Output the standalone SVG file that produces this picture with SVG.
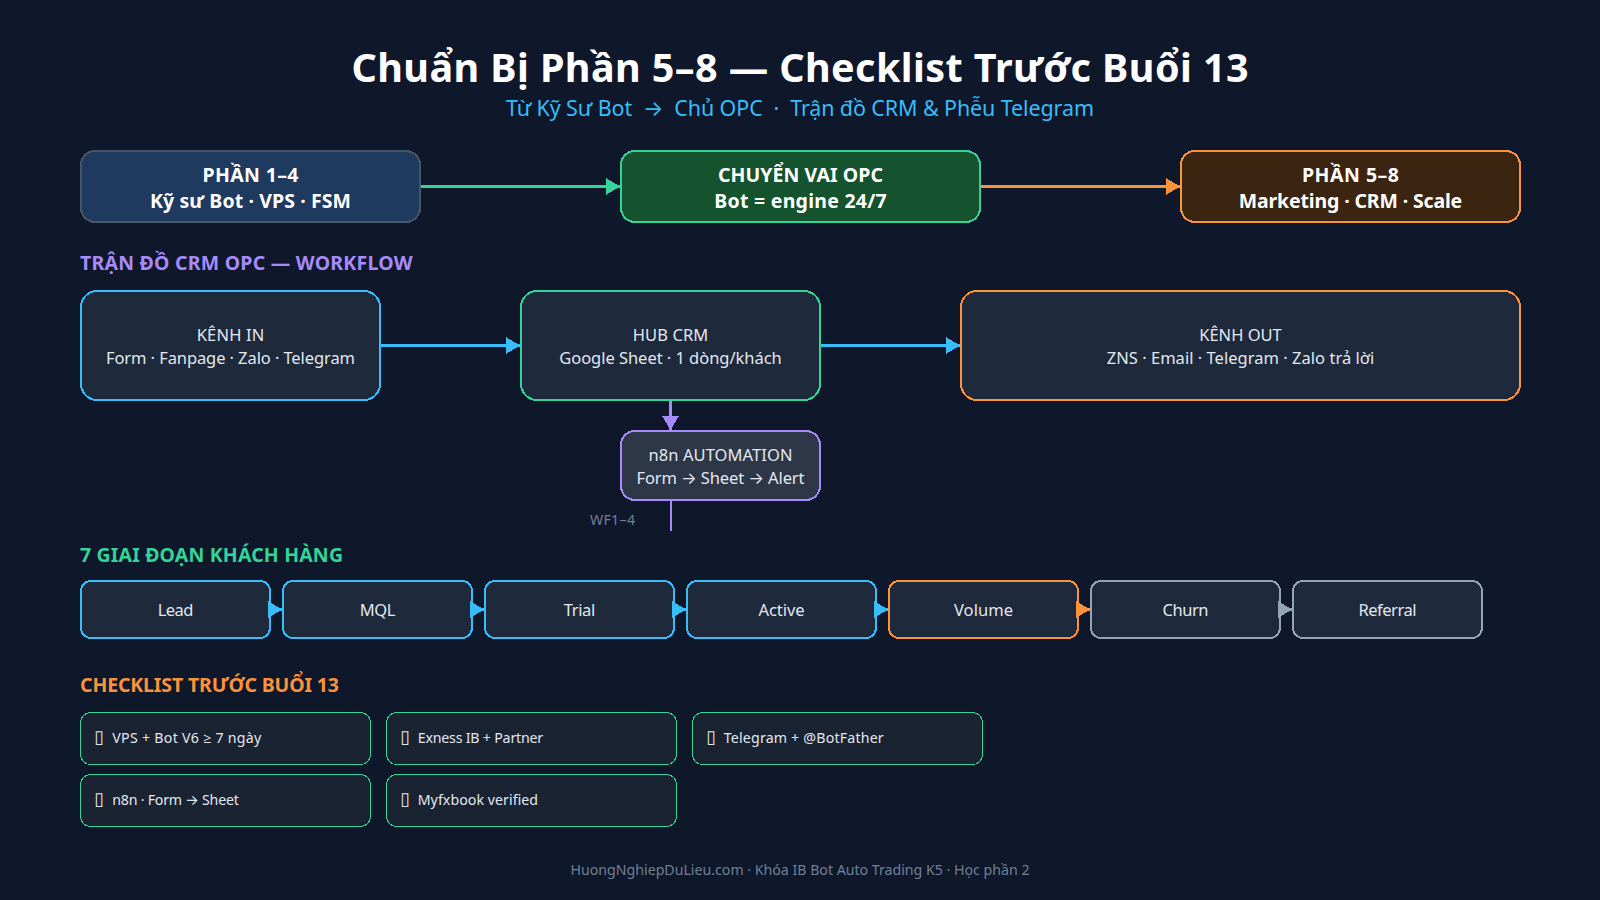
<svg xmlns="http://www.w3.org/2000/svg" width="1600" height="900" viewBox="0 0 1600 900">
<style>
text{font-family:"Noto Sans","Open Sans",sans-serif;text-anchor:middle}
rect,path{shape-rendering:crispEdges}
.t{font-size:39.5px;font-weight:700;fill:#fff}
.sub{font-size:21.5px;fill:#38bdf8}
.b{font-size:19.5px;font-weight:700;fill:#fff}
.n{font-size:16.5px;fill:#e2e8f0}
.h{font-size:19.5px;font-weight:700;text-anchor:start}
.c{font-size:14.2px;fill:#e2e8f0;text-anchor:start}
.tf{font-size:18px;font-family:"DejaVu Sans",sans-serif}
.ar{font-family:"Inter",sans-serif}
.f{font-size:14.2px;fill:#718096}
.l{stroke-width:3;fill:none}
.s{fill:#1e293b;stroke-width:2}
.k{fill:#1a2332;stroke:#34d399;stroke-width:1}
</style>
<defs>
<marker id="ag" markerWidth="14" markerHeight="17" refX="14" refY="8.5" orient="auto" markerUnits="userSpaceOnUse"><path d="M0 0L14 8.5L0 17Z" fill="#34d399"/></marker>
<marker id="ao" markerWidth="14" markerHeight="17" refX="14" refY="8.5" orient="auto" markerUnits="userSpaceOnUse"><path d="M0 0L14 8.5L0 17Z" fill="#fb923c"/></marker>
<marker id="ab" markerWidth="14" markerHeight="17" refX="14" refY="8.5" orient="auto" markerUnits="userSpaceOnUse"><path d="M0 0L14 8.5L0 17Z" fill="#38bdf8"/></marker>
<marker id="ap" markerWidth="14" markerHeight="17" refX="14" refY="8.5" orient="auto" markerUnits="userSpaceOnUse"><path d="M0 0L14 8.5L0 17Z" fill="#a78bfa"/></marker>
<marker id="as" markerWidth="14" markerHeight="17" refX="14" refY="8.5" orient="auto" markerUnits="userSpaceOnUse"><path d="M0 0L14 8.5L0 17Z" fill="#94a3b8"/></marker>
</defs>
<rect width="1600" height="900" fill="#0f172a"/>
<text class="t" x="800" y="82" textLength="897">Chuẩn Bị Phần 5–8 — Checklist Trước Buổi 13</text>
<text class="sub" x="800" y="116" xml:space="preserve" textLength="588">Từ Kỹ Sư Bot  <tspan class="ar">→</tspan>  Chủ OPC  ·  Trận đồ CRM &amp; Phễu Telegram</text>
<text class="h" x="80" y="270" fill="#a78bfa" textLength="332.5">TRẬN ĐỒ CRM OPC — WORKFLOW</text>
<text class="h" x="80" y="562" fill="#34d399" textLength="263">7 GIAI ĐOẠN KHÁCH HÀNG</text>
<text class="h" x="80" y="692" fill="#fb923c" textLength="259">CHECKLIST TRƯỚC BUỔI 13</text>
<text class="f" x="635" y="525" style="text-anchor:end" textLength="45">WF1–4</text>
<g id="connectors">
<path class="l" stroke="#34d399" d="M421 186.5H620" marker-end="url(#ag)"/>
<path class="l" stroke="#fb923c" d="M981 186.5H1180" marker-end="url(#ao)"/>
<path class="l" stroke="#38bdf8" d="M381 345.5H520" marker-end="url(#ab)"/>
<path class="l" stroke="#38bdf8" d="M821 345.5H960" marker-end="url(#ab)"/>
<path class="l" stroke="#a78bfa" d="M670.5 401V430" marker-end="url(#ap)"/>
<path stroke="#a78bfa" stroke-width="2" fill="none" d="M671 501V531"/>
</g>
<g id="n-p14"><rect x="81" y="151" width="339" height="71" rx="14" fill="#1e3a5f" stroke="#475569" stroke-width="2"/><text class="b" x="250.5" y="182" textLength="96">PHẦN 1–4</text><text class="b" x="250.5" y="208" textLength="201">Kỹ sư Bot · VPS · FSM</text></g>
<g id="n-opc"><rect x="621" y="151" width="359" height="71" rx="14" fill="#14532d" stroke="#34d399" stroke-width="2"/><text class="b" x="800.5" y="182" textLength="165">CHUYỂN VAI OPC</text><text class="b" x="800.5" y="208" textLength="172.5">Bot = engine 24/7</text></g>
<g id="n-p58"><rect x="1181" y="151" width="339" height="71" rx="14" fill="#3b2410" stroke="#fb923c" stroke-width="2"/><text class="b" x="1350.5" y="182" textLength="97">PHẦN 5–8</text><text class="b" x="1350.5" y="208" textLength="223.5">Marketing · CRM · Scale</text></g>
<g id="n-in"><rect class="s" x="81" y="291" width="299" height="109" rx="16" stroke="#38bdf8"/><text class="n" x="230.5" y="341" textLength="67.5">KÊNH IN</text><text class="n" x="230.5" y="364" textLength="249">Form · Fanpage · Zalo · Telegram</text></g>
<g id="n-hub"><rect class="s" x="521" y="291" width="299" height="109" rx="16" stroke="#34d399"/><text class="n" x="670.5" y="341" textLength="75.5">HUB CRM</text><text class="n" x="670.5" y="364" textLength="222.5">Google Sheet · 1 dòng/khách</text></g>
<g id="n-out"><rect class="s" x="961" y="291" width="559" height="109" rx="16" stroke="#fb923c"/><text class="n" x="1240.5" y="341" textLength="82.5">KÊNH OUT</text><text class="n" x="1240.5" y="364" textLength="267.5">ZNS · Email · Telegram · Zalo trả lời</text></g>
<g id="n-n8n"><rect x="621" y="431" width="199" height="69" rx="14" fill="#2d3748" stroke="#a78bfa" stroke-width="2"/><text class="n" x="720.5" y="461" textLength="144">n8n AUTOMATION</text><text class="n" x="720.5" y="484" textLength="168">Form <tspan class="ar">→</tspan> Sheet <tspan class="ar">→</tspan> Alert</text></g>
<g id="s1"><rect class="s" x="81" y="581" width="189" height="57" rx="10" stroke="#38bdf8"/><text class="n" x="175.5" y="616" textLength="35.7">Lead</text></g>
<g id="s2"><rect class="s" x="283" y="581" width="189" height="57" rx="10" stroke="#38bdf8"/><text class="n" x="377.5" y="616" textLength="35.7">MQL</text></g>
<g id="s3"><rect class="s" x="485" y="581" width="189" height="57" rx="10" stroke="#38bdf8"/><text class="n" x="579.5" y="616" textLength="31.6">Trial</text></g>
<g id="s4"><rect class="s" x="687" y="581" width="189" height="57" rx="10" stroke="#38bdf8"/><text class="n" x="781.5" y="616" textLength="46">Active</text></g>
<g id="s5"><rect class="s" x="889" y="581" width="189" height="57" rx="10" stroke="#fb923c"/><text class="n" x="983.5" y="616" textLength="59">Volume</text></g>
<g id="s6"><rect class="s" x="1091" y="581" width="189" height="57" rx="10" stroke="#94a3b8"/><text class="n" x="1185.5" y="616" textLength="46">Churn</text></g>
<g id="s7"><rect class="s" x="1293" y="581" width="189" height="57" rx="10" stroke="#94a3b8"/><text class="n" x="1387.5" y="616" textLength="58">Referral</text></g>
<g id="connectors-stages">
<path class="l" stroke="#38bdf8" d="M270 609.5H282" marker-end="url(#ab)"/>
<path class="l" stroke="#38bdf8" d="M472 609.5H484" marker-end="url(#ab)"/>
<path class="l" stroke="#38bdf8" d="M674 609.5H686" marker-end="url(#ab)"/>
<path class="l" stroke="#38bdf8" d="M876 609.5H888" marker-end="url(#ab)"/>
<path class="l" stroke="#fb923c" d="M1078 609.5H1090" marker-end="url(#ao)"/>
<path class="l" stroke="#94a3b8" d="M1280 609.5H1292" marker-end="url(#as)"/>
</g>
<g id="c1"><rect class="k" x="80.5" y="712.5" width="290" height="52" rx="10"/><text class="c" x="94" y="743"><tspan class="tf">▯</tspan><tspan x="112.3" textLength="149">VPS + Bot V6 ≥ 7 ngày</tspan></text></g>
<g id="c2"><rect class="k" x="386.5" y="712.5" width="290" height="52" rx="10"/><text class="c" x="400" y="743"><tspan class="tf">▯</tspan><tspan x="417.7" textLength="125.5">Exness IB + Partner</tspan></text></g>
<g id="c3"><rect class="k" x="692.5" y="712.5" width="290" height="52" rx="10"/><text class="c" x="706" y="743"><tspan class="tf">▯</tspan><tspan x="723.7" textLength="160">Telegram + @BotFather</tspan></text></g>
<g id="c4"><rect class="k" x="80.5" y="774.5" width="290" height="52" rx="10"/><text class="c" x="94" y="805"><tspan class="tf">▯</tspan><tspan x="112.3" textLength="126.5">n8n · Form <tspan class="ar">→</tspan> Sheet</tspan></text></g>
<g id="c5"><rect class="k" x="386.5" y="774.5" width="290" height="52" rx="10"/><text class="c" x="400" y="805"><tspan class="tf">▯</tspan><tspan x="417.7" textLength="120.4">Myfxbook verified</tspan></text></g>
<text class="f" x="800" y="875" textLength="459">HuongNghiepDuLieu.com · Khóa IB Bot Auto Trading K5 · Học phần 2</text>
</svg>
